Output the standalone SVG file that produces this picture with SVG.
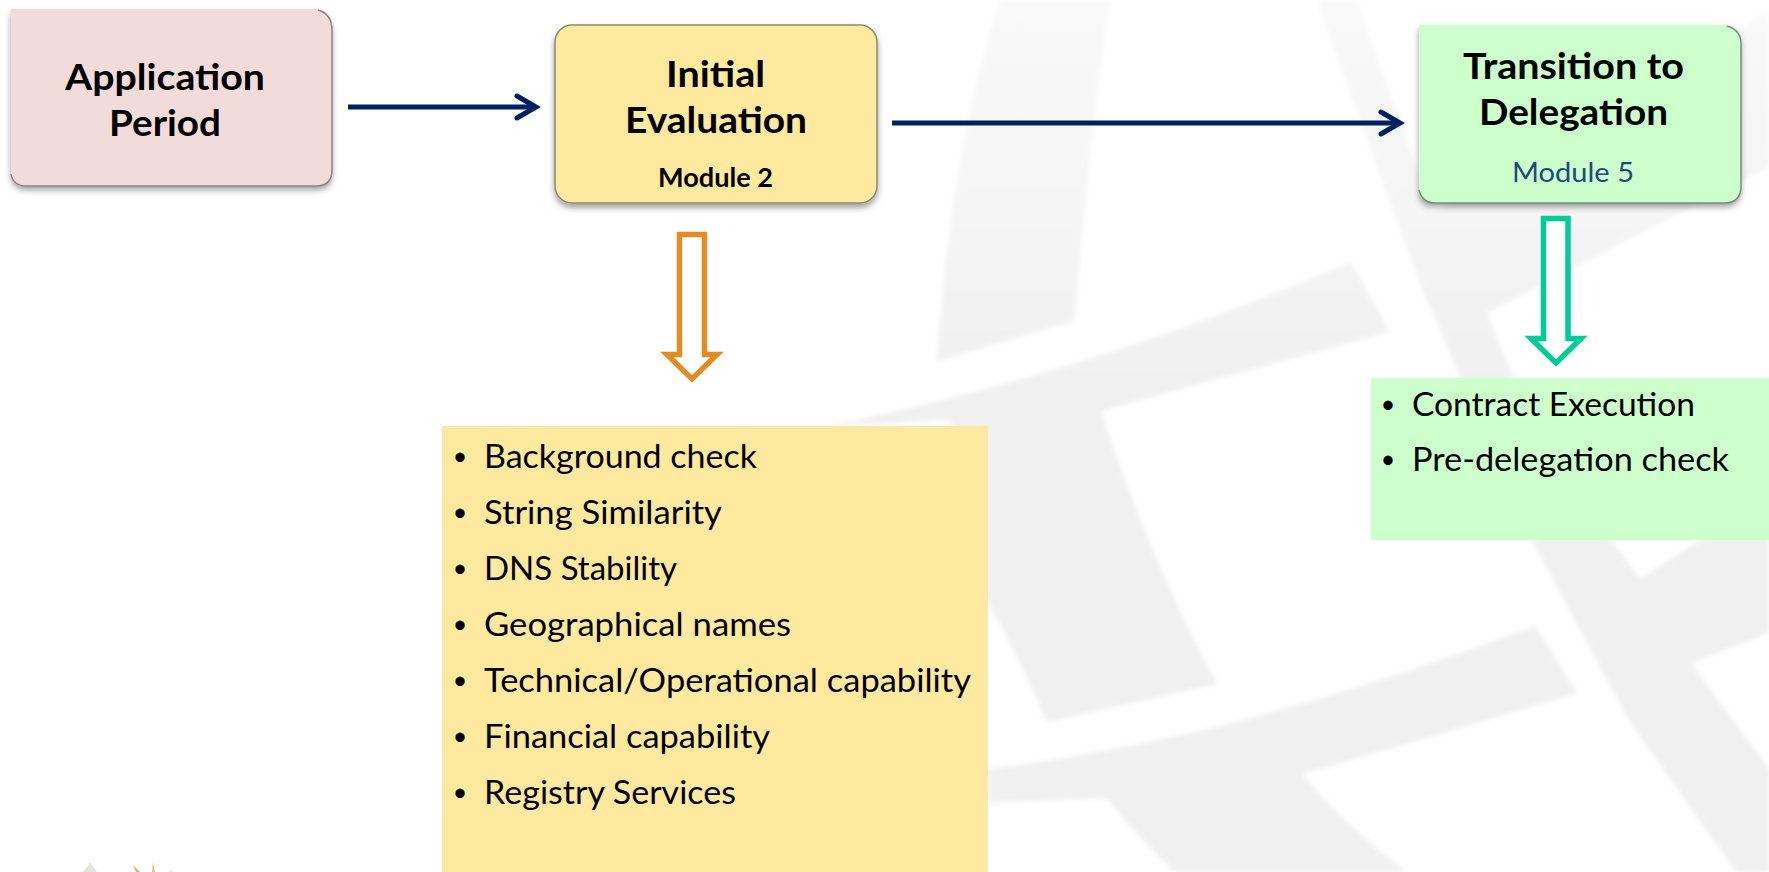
<svg xmlns="http://www.w3.org/2000/svg" width="1769" height="872" viewBox="0 0 1769 872">
<style>
text{font-family:Lato,"Open Sans","Liberation Sans",sans-serif;fill:#000}
.t{font-size:37px;font-weight:700}
.m{font-size:27px}
.b{font-size:33px}
.d{text-anchor:middle;font-size:25px}
.wm{fill:url(#fade);filter:url(#soft)}
.link{fill:none;stroke:#002060;stroke-width:5;marker-end:url(#head)}
.hollow{fill:#fff;stroke-width:5.5;stroke-miterlimit:6}
</style>
<defs>
<linearGradient id="fade" gradientUnits="userSpaceOnUse" x1="0" y1="0" x2="0" y2="400"><stop offset="0" stop-color="#f9f9f9"/><stop offset=".5" stop-color="#f5f5f5"/><stop offset="1" stop-color="#f0f0f0"/></linearGradient>
<filter id="soft" x="-5%" y="-5%" width="110%" height="110%"><feGaussianBlur stdDeviation="2.500"/></filter>
<filter id="shadow" x="-5%" y="-5%" width="110%" height="115%"><feDropShadow dx="0" dy="4" stdDeviation="3" flood-color="#000" flood-opacity=".38"/></filter>
<marker id="head" markerUnits="userSpaceOnUse" markerWidth="30" markerHeight="30" refX="22" refY="14" orient="auto" overflow="visible"><path d="M3 3L22 14L3 25" fill="none" stroke="#002060" stroke-width="5" stroke-linecap="round" stroke-linejoin="miter"/></marker>
</defs>
<rect width="1769" height="872" fill="#fff"/>
<g id="background">
<path class="wm" d="M999 0L1110 0Q1085 170 1075 321L937 361Q950 160 999 0Z"/>
<path class="wm" d="M829 426Q1100 370 1351 262L1390 332L1101 411Q1150 560 1217 684L1047 722Q1010 640 988 603L950 420Z"/>
<path class="wm" d="M988 769Q1100 755 1220 726Q1380 685 1535 626L1577 693Q1440 735 1302 774Q1350 830 1407 872L1175 872Q1140 840 1107 798L988 803Z"/>
<path class="wm" d="M1316 0L1420 283L1460 377L1532 540L1628 719L1736 872L1769 872L1769 769L1691 663L1769 633L1769 495L1640 579L1611 540L1513 377L1487 313L1769 167L1769 10L1433 213L1357 0Z"/>
<path d="M90 862L93 866L97 872L83 872L88 866Z" fill="#e4e4e0"/>
<path d="M133 865L140 872L136 872Z" fill="#dcae80"/>
<path d="M152 872L153 862L155 872Z" fill="#e8bd80"/>
<path d="M169 872L171 870L172 872Z" fill="#dddddd"/>
</g>
<g id="connectors">
<path class="link" d="M348 107H536"/>
<path class="link" d="M892 123H1400"/>
<path class="hollow" stroke="#e28c25" d="M679.500 234.500H704.500V354.500H717L692 379L667 354.500H679.500Z"/>
<path class="hollow" stroke="#00cc99" d="M1543.500 218.500H1568V338.500H1581L1556 363L1531 338.500H1543.500Z"/>
</g>
<g id="application-period">
<path d="M11 9H316Q332 12 332 30V170Q332 186 316 186H27Q11 186 11 170Z" fill="#f2dcdb" filter="url(#shadow)"/>
<path d="M318 10Q332 14 332 30V170Q332 186 316 186H27Q13 186 11 174" fill="none" stroke="#8c8484" stroke-width="1.500"/>
<text class="t" x="65" y="90" textLength="200" lengthAdjust="spacingAndGlyphs">Application</text>
<text class="t" x="109" y="136" textLength="112" lengthAdjust="spacingAndGlyphs">Period</text>
</g>
<g id="initial-evaluation">
<rect x="555" y="25" width="322" height="178" rx="17" fill="#fee99e" stroke="#8a8a70" stroke-width="1.500" filter="url(#shadow)"/>
<text class="t" x="666" y="87" textLength="99" lengthAdjust="spacingAndGlyphs">Initial</text>
<text class="t" x="625" y="133" textLength="182" lengthAdjust="spacingAndGlyphs">Evaluation</text>
<text class="m" x="658" y="187" font-weight="700" textLength="115" lengthAdjust="spacingAndGlyphs">Module 2</text>
</g>
<g id="transition-to-delegation">
<path d="M1419 25H1725Q1741 28 1741 44V186Q1741 203 1724 203H1436Q1419 203 1419 188Z" fill="#ccffcc" filter="url(#shadow)"/>
<path d="M1727 26Q1741 30 1741 44V186Q1741 203 1724 203H1436Q1422 203 1419 190" fill="none" stroke="#7d8a7d" stroke-width="1.500"/>
<text class="t" x="1463" y="79" textLength="221" lengthAdjust="spacingAndGlyphs">Transition to</text>
<text class="t" x="1479" y="125" textLength="189" lengthAdjust="spacingAndGlyphs">Delegation</text>
<text class="m" x="1512" y="182" style="fill:#1f497d" textLength="122" lengthAdjust="spacingAndGlyphs">Module 5</text>
</g>
<g id="evaluation-list">
<rect x="442" y="426" width="546" height="446" fill="#fee99e"/>
<text class="b d" x="460" y="465">•</text><text class="b" x="484" y="468" textLength="273" lengthAdjust="spacingAndGlyphs">Background check</text>
<text class="b d" x="460" y="521">•</text><text class="b" x="484" y="524" textLength="238" lengthAdjust="spacingAndGlyphs">String Similarity</text>
<text class="b d" x="460" y="577">•</text><text class="b" x="484" y="580" textLength="193" lengthAdjust="spacingAndGlyphs">DNS Stability</text>
<text class="b d" x="460" y="633">•</text><text class="b" x="484" y="636" textLength="307" lengthAdjust="spacingAndGlyphs">Geographical names</text>
<text class="b d" x="460" y="689">•</text><text class="b" x="484" y="692" textLength="487" lengthAdjust="spacingAndGlyphs">Technical/Operational capability</text>
<text class="b d" x="460" y="745">•</text><text class="b" x="484" y="748" textLength="286" lengthAdjust="spacingAndGlyphs">Financial capability</text>
<text class="b d" x="460" y="801">•</text><text class="b" x="484" y="804" textLength="252" lengthAdjust="spacingAndGlyphs">Registry Services</text>
</g>
<g id="delegation-list">
<rect x="1371" y="378" width="398" height="162" fill="#ccffcc"/>
<text class="b d" x="1388" y="413">•</text><text class="b" x="1412" y="416" textLength="283" lengthAdjust="spacingAndGlyphs">Contract Execution</text>
<text class="b d" x="1388" y="468">•</text><text class="b" x="1412" y="471" textLength="317" lengthAdjust="spacingAndGlyphs">Pre-delegation check</text>
</g>
</svg>
